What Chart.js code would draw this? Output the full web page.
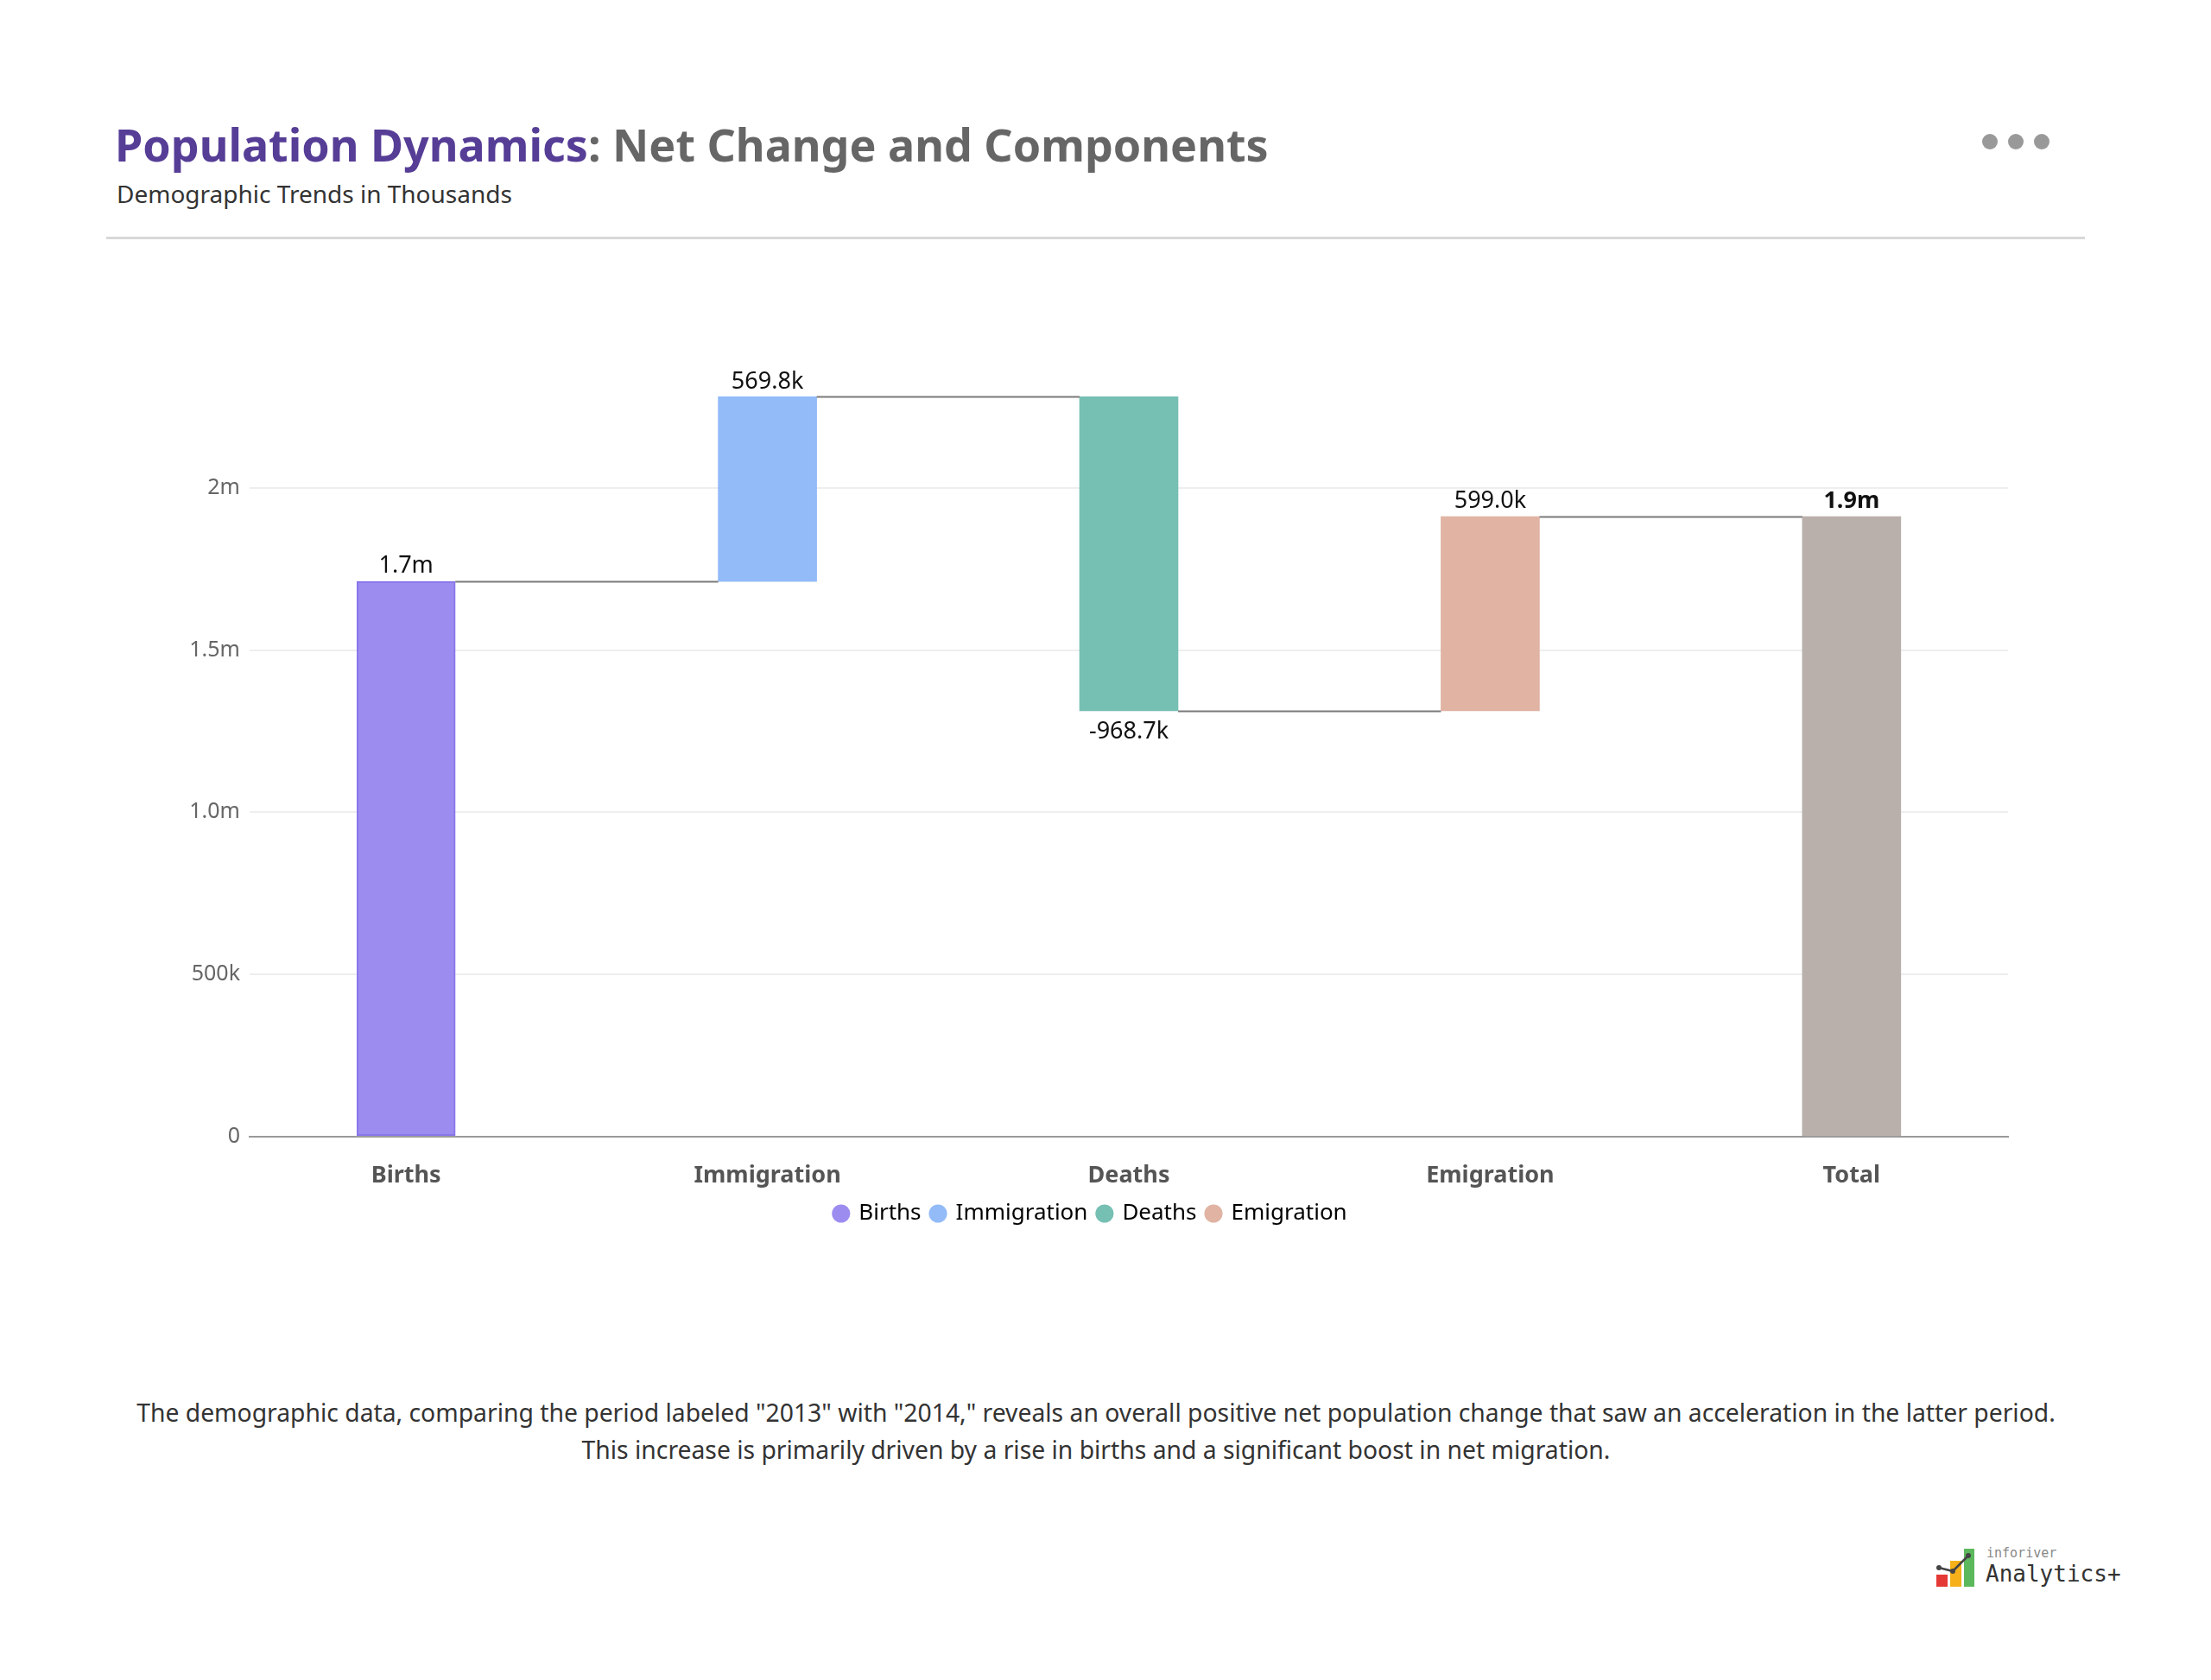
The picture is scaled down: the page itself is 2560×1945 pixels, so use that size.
<!DOCTYPE html>
<html>
<head>
<meta charset="utf-8">
<title>Population Dynamics</title>
<script src="https://cdn.jsdelivr.net/npm/chart.js@4.4.1/dist/chart.umd.min.js"></script>
<style>
  html, body { margin: 0; padding: 0; background: #fff; }
  body {
    width: 2560px; height: 1945px; position: relative; overflow: hidden;
    font-family: "Noto Sans", "Open Sans", sans-serif;
  }
  .title {
    position: absolute; left: 133px; top: 131px; margin: 0;
    font-size: 52px; font-weight: 700; color: #666; white-space: nowrap;
  }
  .title span { color: #563d96; }
  .subtitle { position: absolute; left: 135px; top: 205px; font-size: 28px; color: #333; }
  .rule { position: absolute; left: 123px; top: 274px; width: 2291px; height: 3px; background: #d8d8d8; }
  .dots { position: absolute; left: 2295px; top: 155px; display: flex; gap: 12px; }
  .dots i { width: 18px; height: 18px; border-radius: 50%; background: #999; display: block; }
  #chart-wrap { position: absolute; left: 0; top: 340px; width: 2560px; height: 1088px; }
  .note {
    position: absolute; left: 0; top: 1614px; width: 2538px; text-align: center;
    font-size: 28.3px; line-height: 43px; color: #333;
  }
  .logo { position: absolute; left: 2239px; top: 1787px; }
  .logo .small { position: absolute; left: 61px; top: 2px; font: 15px "DejaVu Sans Mono", monospace; color: #888; }
  .logo .big { position: absolute; left: 60px; top: 20px; font: 26px "DejaVu Sans Mono", monospace; color: #333; white-space: nowrap; }
</style>
</head>
<body>
  <h1 class="title"><span>Population Dynamics</span>: Net Change and Components</h1>
  <div class="subtitle">Demographic Trends in Thousands</div>
  <div class="rule"></div>
  <div class="dots"><i></i><i></i><i></i></div>

  <div id="chart-wrap"><canvas id="waterfall"></canvas></div>

  <div class="note">
    The demographic data, comparing the period labeled "2013" with "2014," reveals an overall positive net population change that saw an acceleration in the latter period.<br>
    This increase is primarily driven by a rise in births and a significant boost in net migration.
  </div>

  <div class="logo">
    <svg width="52" height="52" viewBox="0 0 52 52">
      <rect x="3" y="36" width="13" height="14" fill="#e53935"/>
      <rect x="19" y="20" width="13" height="30" fill="#f5b01a"/>
      <rect x="35" y="6" width="12" height="44" fill="#5cb85c"/>
      <polyline points="6,28 22,32 40,14" fill="none" stroke="#444" stroke-width="2.5"/>
      <circle cx="6" cy="28" r="3" fill="#444"/>
      <circle cx="22" cy="32" r="3" fill="#444"/>
      <circle cx="40" cy="14" r="3" fill="#444"/>
    </svg>
    <div class="small">inforiver</div>
    <div class="big">Analytics+</div>
  </div>

<script>
  // values in thousands
  const categories = ['Births', 'Immigration', 'Deaths', 'Emigration', 'Total'];
  const changes = [1712.0, 569.8, -968.7, 599.0];
  const barColors = ['#9d8cf0', '#92bbf8', '#76bfb3', '#e0b3a3', '#bab0ab'];
  const yTickValues = [0, 500, 1000, 1500, 2000];
  const yTickLabels = ['0', '500k', '1.0m', '1.5m', '2m'];

  // running totals -> floating bars
  const levels = [];
  const bars = [];
  let run = 0;
  changes.forEach((c, i) => {
    const start = run;
    run += c;
    levels.push(run);
    bars.push({ x: i, y: [Math.min(start, run), Math.max(start, run)] });
  });
  bars.push({ x: changes.length, y: [0, run] });
  const values = changes.concat([run]);

  function fmt(v) {
    if (Math.abs(v) >= 1000) return (v / 1000).toFixed(1) + 'm';
    return v.toFixed(1) + 'k';
  }

  const FONT = '"Noto Sans", "Open Sans", sans-serif';

  const waterfallExtras = {
    id: 'waterfallExtras',
    afterDatasetsDraw(chart) {
      const { ctx } = chart;
      const y = chart.scales.y;
      const meta = chart.getDatasetMeta(0);
      ctx.save();

      // connector lines between bars
      ctx.strokeStyle = '#7a7a7a';
      ctx.lineWidth = 2;
      for (let i = 0; i < meta.data.length - 1; i++) {
        const a = meta.data[i], b = meta.data[i + 1];
        const py = Math.round(y.getPixelForValue(levels[i])) + 0.5;
        ctx.beginPath();
        ctx.moveTo(a.x + a.width / 2, py);
        ctx.lineTo(b.x - b.width / 2, py);
        ctx.stroke();
      }

      // value labels
      ctx.fillStyle = '#111';
      ctx.textAlign = 'center';
      meta.data.forEach((bar, i) => {
        const v = values[i];
        const isTotal = i === values.length - 1;
        ctx.font = (isTotal ? '700 ' : '400 ') + '27px ' + FONT;
        const top = Math.min(bar.y, bar.base);
        const bottom = Math.max(bar.y, bar.base);
        if (v >= 0) {
          ctx.textBaseline = 'bottom';
          ctx.fillText(fmt(v), bar.x, top - 4);
        } else {
          ctx.textBaseline = 'top';
          ctx.fillText(fmt(v), bar.x, bottom + 11);
        }
      });
      ctx.restore();
    }
  };

  new Chart(document.getElementById('waterfall'), {
    type: 'bar',
    data: {
      datasets: [{
        data: bars,
        backgroundColor: barColors,
        borderColor: ['#8776ea', '#92bbf8', '#76bfb3', '#e0b3a3', '#bab0ab'],
        borderWidth: [2, 0, 0, 0, 0],
        borderSkipped: false,
        barThickness: 114
      }]
    },
    options: {
      responsive: true,
      maintainAspectRatio: false,
      devicePixelRatio: 1,
      animation: false,
      layout: { padding: { left: 201, right: 235, top: 75, bottom: 0 } },
      plugins: {
        tooltip: { enabled: false },
        legend: {
          position: 'bottom',
          labels: {
            usePointStyle: true,
            pointStyle: 'circle',
            boxWidth: 15,
            boxHeight: 15,
            padding: 12,
            color: '#333',
            font: { family: FONT, size: 26 },
            generateLabels: () => categories.slice(0, 4).map((c, i) => ({
              text: c,
              fillStyle: barColors[i],
              strokeStyle: barColors[i],
              lineWidth: 0,
              pointStyle: 'circle',
              hidden: false,
              datasetIndex: 0
            }))
          },
          onClick: () => {}
        }
      },
      scales: {
        x: {
          type: 'linear',
          offset: false,
          min: -0.433,
          max: 4.433,
          grid: { display: false, drawTicks: false, offset: false },
          border: { display: true, color: '#9a9a9a', width: 2 },
          afterBuildTicks: (scale) => { scale.ticks = categories.map((c, i) => ({ value: i })); },
          afterFit: (scale) => { scale.height -= 28; },
          ticks: {
            padding: 30,
            color: '#555',
            font: { family: FONT, size: 27, weight: '700' },
            callback: (v) => categories[v]
          }
        },
        y: {
          min: 0,
          max: 2400,
          afterFit: (scale) => { scale.width = 88; },
          afterBuildTicks: (scale) => { scale.ticks = yTickValues.map(v => ({ value: v })); },
          grid: { color: '#eeeeee', lineWidth: 2, drawTicks: false },
          border: { display: false },
          ticks: {
            padding: 11,
            color: '#666',
            font: { family: FONT, size: 25 },
            callback: (v) => yTickLabels[yTickValues.indexOf(v)]
          }
        }
      }
    },
    plugins: [waterfallExtras]
  });
</script>
</body>
</html>
